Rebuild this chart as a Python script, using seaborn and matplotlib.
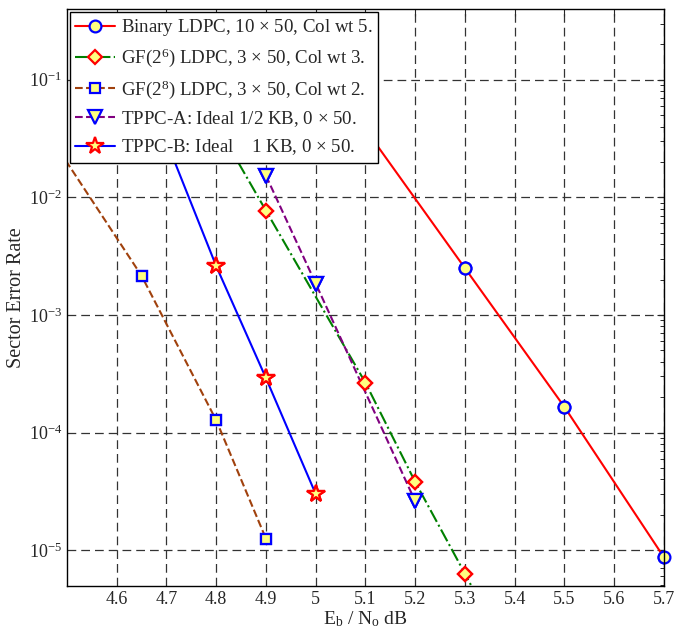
import numpy as np
import pandas as pd
import matplotlib
matplotlib.use('Agg')
import matplotlib.pyplot as plt
import matplotlib.ticker as mticker
import seaborn as sns

# Данные
ebno_binary = [5.1, 5.3, 5.5, 5.7]
ser_binary = [3.8e-2, 2.5e-3, 1.65e-4, 8.7e-6]

ebno_gf6 = [4.8, 4.9, 5.1, 5.2, 5.3, 5.4]
ser_gf6 = [4.2e-2, 7.7e-3, 2.65e-4, 3.8e-5, 6.3e-6, 1.0e-6]

ebno_gf8 = [4.4, 4.65, 4.8, 4.9]
ser_gf8 = [8.7e-2, 2.15e-3, 1.27e-4, 1.25e-5]

ebno_tppc_a = [4.9, 5.0, 5.2]
ser_tppc_a = [1.53e-2, 1.85e-3, 2.6e-5]

ebno_tppc_b = [4.7, 4.8, 4.9, 5.0]
ser_tppc_b = [3.0e-2, 2.6e-3, 2.9e-4, 3.0e-5]

labels = [
    'Binary LDPC, 10 $\\times$ 50, Col wt 5.',
    'GF(2$^{6}$) LDPC, 3 $\\times$ 50, Col wt 3.',
    'GF(2$^{8}$) LDPC, 3 $\\times$ 50, Col wt 2.',
    'TPPC-A: Ideal 1/2 KB, 0 $\\times$ 50.',
    'TPPC-B: Ideal    1 KB, 0 $\\times$ 50.',
]
x_ticks = [4.6, 4.7, 4.8, 4.9, 5.0, 5.1, 5.2, 5.3, 5.4, 5.5, 5.6, 5.7]

XLIM = (4.5, 5.7)
YLIM = (4.95e-6, 0.4)


def main():
    sns.set_style('white')
    plt.rcParams['font.family'] = ['Liberation Serif', 'DejaVu Serif']
    plt.rcParams['mathtext.fontset'] = 'custom'
    plt.rcParams['mathtext.rm'] = 'Liberation Serif'
    plt.rcParams['mathtext.it'] = 'Liberation Serif:italic'
    plt.rcParams['mathtext.default'] = 'regular'

    fig = plt.figure(figsize=(6.74, 6.41), dpi=100)
    ax = fig.add_axes([0.0994, 0.0858, 0.8856, 0.9002])

    face = '#FFFF80'
    series = [
        (ebno_binary, ser_binary, '#FF0000', '-', 'o', '#0000FF', 8.5, labels[0]),
        (ebno_gf6, ser_gf6, '#008000', '-.', 'D', '#FF0000', 7.5, labels[1]),
        (ebno_gf8, ser_gf8, '#A0410D', '--', 's', '#0000FF', 7.5, labels[2]),
        (ebno_tppc_a, ser_tppc_a, '#800080', '--', 'v', '#0000FF', 10.5, labels[3]),
        (ebno_tppc_b, ser_tppc_b, '#0000FF', '-', '*', '#FF0000', 13, labels[4]),
    ]
    for xs, ys, col, ls, mk, mec, ms, lab in series:
        df = pd.DataFrame({'x': xs, 'y': ys})
        sns.lineplot(data=df, x='x', y='y', ax=ax, color=col, linestyle=ls,
                     linewidth=1.5, marker=mk, markerfacecolor=face,
                     markeredgecolor=mec, markeredgewidth=1.6, markersize=ms,
                     label=lab, sort=False, estimator=None)
        # маркеры внутри осей не обрезаются по краю (как в MATLAB)
        inside = df[(df.x >= XLIM[0]) & (df.x <= XLIM[1]) &
                    (df.y >= YLIM[0]) & (df.y <= YLIM[1])]
        ax.plot(inside.x, inside.y, linestyle='none', marker=mk,
                markerfacecolor=face, markeredgecolor=mec, markeredgewidth=1.6,
                markersize=ms, clip_on=False, zorder=2.5)

    ax.set_yscale('log')
    ax.set_xlim(*XLIM)
    ax.set_ylim(*YLIM)
    ax.set_xticks(x_ticks)
    ax.xaxis.set_major_formatter(mticker.FormatStrFormatter('%g'))
    ax.yaxis.set_major_locator(mticker.LogLocator(base=10, numticks=10))
    ax.yaxis.set_minor_locator(mticker.LogLocator(base=10, subs=np.arange(2, 10), numticks=10))
    ax.yaxis.set_minor_formatter(mticker.NullFormatter())

    ax.grid(True, which='major', color='#333333', linestyle=(0, (7, 4)), linewidth=0.9)
    ax.tick_params(which='both', direction='in', top=True, right=True, labelsize=13)
    ax.tick_params(which='major', length=5, width=0.8)
    ax.tick_params(which='minor', length=3, width=0.7)
    for sp in ax.spines.values():
        sp.set_color('black')
        sp.set_linewidth(1.0)

    ax.set_xlabel('E$_\\mathregular{b}$ / N$_\\mathregular{o}$ dB', fontsize=14, labelpad=1)
    ax.set_ylabel('Sector Error Rate', fontsize=14.5, labelpad=2)

    leg = ax.legend(loc='upper left', fontsize=13.6, frameon=True, fancybox=False,
                    framealpha=1, edgecolor='black', borderaxespad=0.15,
                    handlelength=2.1, handletextpad=0.3, labelspacing=0.45,
                    borderpad=0.3)
    leg.get_frame().set_linewidth(1.0)
    leg.set_zorder(5)

    fig.savefig('out.png', dpi=100)
    plt.close('all')


if __name__ == '__main__':
    main()
